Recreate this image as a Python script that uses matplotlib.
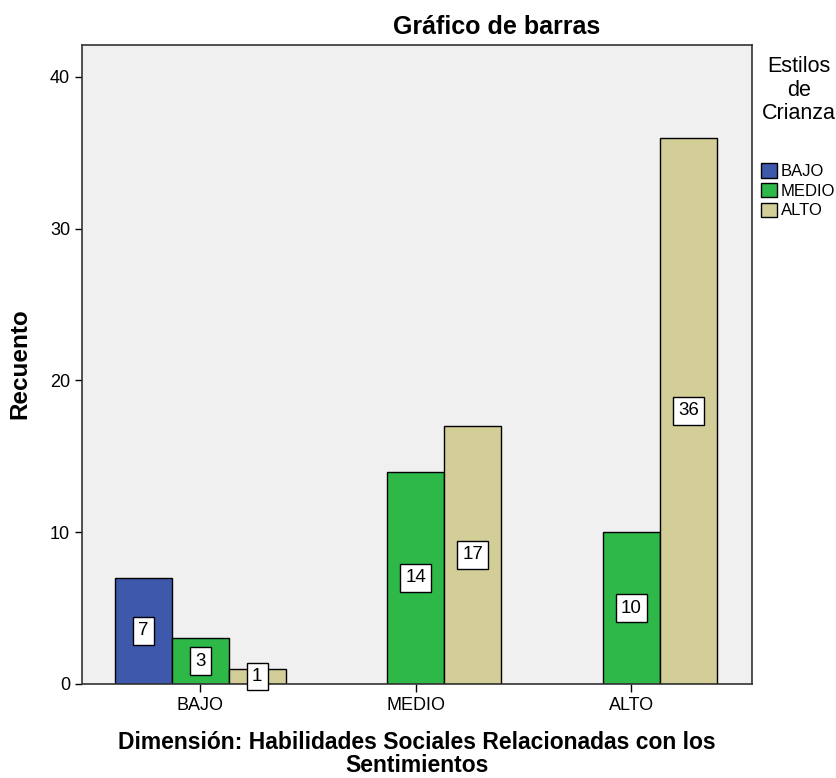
import matplotlib.pyplot as plt
from matplotlib.patches import Patch

plt.rcParams['font.family'] = ['Liberation Sans', 'DejaVu Sans']

categories = ['BAJO', 'MEDIO', 'ALTO']
series = ['BAJO', 'MEDIO', 'ALTO']
counts = {
    'BAJO': [7, 0, 0],
    'MEDIO': [3, 14, 10],
    'ALTO': [1, 17, 36],
}
colors = {'BAJO': '#3E58AC', 'MEDIO': '#2EB848', 'ALTO': '#D3CE97'}

fig = plt.figure(figsize=(8.37, 7.78), dpi=100)
ax = fig.add_axes([82 / 837, 1 - 684 / 778, (752 - 82) / 837, (684 - 45) / 778])
ax.set_facecolor('#F0F0F0')

width = 0.2645
for j, s in enumerate(series):
    for i, cat in enumerate(categories):
        v = counts[s][i]
        if v == 0:
            continue
        x = i + (j - 1) * width
        ax.bar(x, v, width=width, color=colors[s], edgecolor='black', linewidth=1, zorder=2)
        ax.text(x, v / 2, str(v), ha='center', va='center', fontsize=13.5, zorder=3,
                bbox=dict(boxstyle='square,pad=0.28', facecolor='white', edgecolor='black', linewidth=1))

ax.set_xlim(-0.548, 2.56)
ax.set_ylim(0, 42.1)
ax.set_xticks(range(len(categories)))
ax.set_xticklabels(categories, fontsize=13)
ax.set_yticks([0, 10, 20, 30, 40])
ax.tick_params(axis='y', labelsize=13, length=5, width=1)
ax.tick_params(axis='x', length=6, width=1)
for sp in ax.spines.values():
    sp.set_linewidth(1.2)
    sp.set_color('#333333')

fig.text(497 / 837, 1 - 27 / 778, 'Gráfico de barras', ha='center', va='center',
         fontsize=18, fontweight='bold')
fig.text(417 / 837, 1 - 754 / 778, 'Dimensión: Habilidades Sociales Relacionadas con los\nSentimientos',
         ha='center', va='center', fontsize=16.5, fontweight='bold', linespacing=0.98)
fig.text(20 / 837, 1 - 364 / 778, 'Recuento', ha='center', va='center', rotation=90,
         fontsize=17.5, fontweight='bold')

fig.text(799 / 837, 1 - 90 / 778, 'Estilos\nde\nCrianza', ha='center', va='center',
         fontsize=15.5, linespacing=1.15)
handles = [Patch(facecolor=colors[s], edgecolor='black', label=s) for s in series]
fig.legend(handles=handles, loc='upper left', bbox_to_anchor=(758 / 837, 1 - 160 / 778),
           frameon=False, fontsize=12, handlelength=0.95, handleheight=0.95,
           handletextpad=0.2, labelspacing=0.22, borderpad=0.2, borderaxespad=0)

fig.savefig('out.png', dpi=100)
